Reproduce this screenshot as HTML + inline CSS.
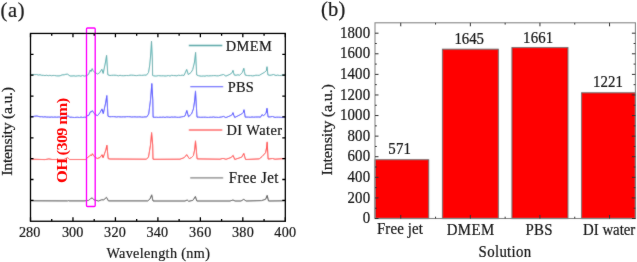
<!DOCTYPE html><html><head><meta charset="utf-8"><style>html,body{margin:0;padding:0;background:#fff;width:637px;height:262px;overflow:hidden}svg{display:block}text{font-family:"Liberation Serif",serif;fill:#1a1a1a;stroke:#1a1a1a;stroke-width:0.22}</style></head><body>
<svg width="637" height="262" viewBox="0 0 637 262"><defs><filter id="bl" x="-5%" y="-5%" width="110%" height="110%"><feConvolveMatrix order="3" kernelMatrix="0.0350 0.0700 0.0350 0.0700 0.5800 0.0700 0.0350 0.0700 0.0350" preserveAlpha="false"/></filter><filter id="bt" x="-2%" y="-2%" width="104%" height="104%"><feConvolveMatrix order="3" kernelMatrix="0.0150 0.0300 0.0150 0.0300 0.8200 0.0300 0.0150 0.0300 0.0150" preserveAlpha="false"/></filter><filter id="bf" x="-2%" y="-2%" width="104%" height="104%"><feConvolveMatrix order="3" kernelMatrix="0.0150 0.0300 0.0150 0.0300 0.8200 0.0300 0.0150 0.0300 0.0150" preserveAlpha="false"/></filter></defs>
<g filter="url(#bl)"><rect x="-10" y="-10" width="660" height="290" fill="#fff"/>
<path d="M30.50,74.90 L32.75,74.61 L35.00,74.60 L36.67,74.49 L38.33,75.05 L40.00,74.76 L41.67,75.30 L43.33,75.33 L45.00,75.60 L46.62,75.28 L48.25,75.68 L49.88,75.34 L51.50,75.70 L53.12,75.44 L54.75,75.50 L56.38,75.80 L58.00,75.90 L60.07,75.79 L62.13,74.87 L64.20,74.80 L65.90,74.28 L67.60,74.20 L70.00,76.00 L72.00,76.00 L74.00,75.80 L75.71,76.16 L77.43,75.86 L79.14,75.72 L80.86,76.18 L82.57,75.44 L84.29,76.09 L86.00,75.80 L88.50,74.50 L89.60,71.50 L90.20,70.00 L91.00,71.60 L92.20,68.60 L93.00,70.50 L94.60,72.30 L97.50,74.00 L99.50,72.90 L101.80,69.20 L103.20,73.50 L105.50,62.00 L106.60,55.20 L107.80,74.80 L110.00,75.50 L111.67,75.34 L113.33,75.24 L115.00,75.23 L116.67,75.39 L118.33,75.81 L120.00,75.31 L121.67,75.64 L123.33,75.70 L125.00,75.60 L126.67,75.48 L128.33,75.60 L130.00,75.20 L131.67,75.18 L133.33,75.28 L135.00,75.50 L136.63,75.60 L138.26,75.36 L139.89,75.22 L141.51,75.40 L143.14,75.25 L144.77,75.08 L146.40,75.20 L148.50,72.50 L149.60,66.00 L150.40,58.00 L151.10,48.00 L151.50,41.00 L152.40,60.00 L152.60,75.50 L153.60,75.80 L155.20,76.04 L156.80,75.96 L158.40,75.60 L160.00,75.80 L161.67,75.84 L163.33,75.78 L165.00,76.03 L166.67,75.89 L168.33,75.52 L170.00,76.05 L171.67,75.34 L173.33,75.56 L175.00,75.60 L176.80,75.79 L178.60,75.28 L180.40,75.53 L182.20,75.15 L184.00,75.50 L186.70,69.40 L188.30,74.60 L191.00,72.50 L192.70,69.70 L194.50,62.00 L195.60,52.30 L196.70,75.00 L198.35,75.63 L200.00,76.00 L201.67,76.17 L203.33,75.97 L205.00,76.17 L206.67,75.67 L208.33,75.93 L210.00,75.81 L211.67,75.75 L213.33,75.61 L215.00,75.60 L216.67,75.81 L218.33,75.82 L220.00,75.40 L221.75,74.93 L223.50,74.50 L225.90,76.10 L230.00,74.30 L232.20,72.60 L233.00,70.30 L233.60,72.80 L234.30,75.10 L236.10,75.26 L237.90,74.82 L239.70,75.20 L242.30,72.60 L243.80,68.20 L244.40,71.50 L245.20,75.10 L247.30,75.50 L249.00,75.65 L250.70,75.59 L252.40,75.85 L254.10,75.70 L255.80,75.26 L257.50,75.32 L259.20,75.40 L261.90,73.80 L264.70,72.20 L266.30,70.80 L267.00,66.70 L267.90,74.90 L270.00,75.30 L271.70,75.03 L273.40,74.50 L276.00,75.50 L277.67,75.12 L279.33,75.47 L281.00,75.50 L283.15,74.88 L285.30,74.80" fill="none" stroke="#3aa2a2" stroke-width="0.95" stroke-linejoin="round"/>
<path d="M30.50,116.80 L33.00,116.50 L35.00,116.16 L37.00,116.00 L40.00,116.80 L41.67,116.69 L43.33,117.01 L45.00,116.79 L46.67,117.08 L48.33,117.07 L50.00,117.20 L51.65,116.99 L53.30,117.22 L54.95,117.00 L56.60,117.21 L58.25,117.03 L59.90,117.06 L61.55,117.23 L63.20,117.44 L64.85,117.10 L66.50,117.30 L68.00,115.50 L69.50,117.30 L71.15,117.16 L72.80,117.36 L74.45,117.52 L76.10,117.34 L77.75,117.25 L79.40,117.54 L81.05,117.07 L82.70,117.48 L84.35,117.19 L86.00,117.30 L86.90,115.80 L89.00,115.20 L90.30,111.80 L91.20,112.10 L92.30,110.60 L95.20,114.70 L97.60,115.60 L100.00,112.60 L101.90,108.90 L103.30,113.80 L105.60,103.00 L106.80,95.50 L108.00,116.30 L110.00,116.80 L111.67,116.63 L113.34,116.63 L115.00,116.73 L116.67,116.99 L118.34,116.69 L120.01,116.90 L121.68,116.93 L123.35,116.81 L125.01,116.91 L126.68,116.67 L128.35,116.68 L130.02,116.76 L131.69,117.01 L133.35,116.89 L135.02,116.84 L136.69,116.99 L138.36,116.93 L140.03,116.86 L141.70,117.12 L143.36,117.08 L145.03,116.86 L146.70,117.00 L148.70,114.00 L150.50,100.00 L151.80,83.50 L152.80,100.00 L153.10,117.30 L154.82,117.31 L156.55,117.26 L158.28,117.41 L160.00,117.20 L161.67,117.31 L163.33,117.09 L165.00,117.44 L166.67,117.01 L168.33,117.16 L170.00,117.33 L171.67,117.03 L173.33,117.19 L175.00,116.97 L176.67,117.28 L178.33,117.33 L180.00,117.20 L181.67,116.84 L183.33,116.59 L185.00,116.00 L186.80,110.40 L188.50,116.80 L191.50,114.00 L193.40,109.00 L194.60,101.00 L195.50,90.90 L197.00,117.20 L198.64,117.11 L200.29,117.30 L201.93,117.25 L203.57,117.24 L205.21,117.18 L206.86,117.37 L208.50,117.42 L210.14,117.19 L211.79,117.28 L213.43,116.98 L215.07,117.30 L216.71,117.27 L218.36,117.45 L220.00,117.20 L221.75,116.96 L223.50,116.40 L225.90,117.60 L230.90,115.50 L232.30,114.50 L233.00,112.60 L233.70,115.00 L234.70,117.50 L241.80,113.90 L243.30,112.30 L244.00,109.70 L244.60,113.00 L245.20,117.20 L246.90,117.09 L248.60,117.14 L250.30,117.28 L252.00,116.96 L253.70,117.18 L255.40,117.03 L257.10,117.01 L258.80,116.98 L260.50,117.20 L261.90,114.70 L263.70,115.60 L266.00,113.30 L267.00,108.20 L268.10,117.00 L270.25,116.88 L272.40,116.50 L275.00,117.40 L276.72,117.18 L278.43,117.21 L280.15,117.25 L281.87,117.45 L283.58,117.02 L285.30,117.20" fill="none" stroke="#2e2eff" stroke-width="1.00" stroke-linejoin="round"/>
<path d="M30.50,159.20 L35.00,159.30 L45.00,159.60 L48.90,158.90 L52.00,159.50 L64.00,159.50 L67.70,157.60 L69.50,159.50 L86.00,159.50 L86.60,158.30 L89.40,156.10 L90.90,154.90 L91.50,155.80 L92.40,153.70 L94.60,156.90 L97.20,158.50 L100.00,157.50 L102.00,154.70 L103.10,157.90 L105.80,150.00 L106.90,145.10 L108.20,158.70 L110.00,159.00 L146.50,159.20 L148.50,157.00 L150.50,145.00 L151.60,132.50 L152.70,145.00 L153.00,159.30 L180.00,159.20 L184.30,157.60 L186.70,154.60 L189.20,158.60 L191.50,157.60 L193.40,155.60 L194.60,150.00 L195.50,140.80 L197.10,158.90 L220.00,159.20 L223.00,158.40 L226.00,159.30 L231.00,157.50 L233.20,155.40 L234.70,159.50 L241.80,157.10 L243.80,153.30 L245.50,159.50 L259.20,158.90 L262.00,156.60 L265.50,152.80 L266.50,148.00 L267.20,141.90 L268.10,159.10 L272.40,158.50 L275.00,159.20 L285.30,158.50" fill="none" stroke="#ff2222" stroke-width="1.00" stroke-linejoin="round"/>
<path d="M30.50,200.80 L60.00,200.90 L67.50,200.90 L68.30,200.60 L69.00,200.90 L84.00,200.90 L88.60,200.40 L90.50,198.70 L92.20,197.90 L93.90,199.80 L98.50,201.00 L101.60,199.80 L103.80,199.80 L106.50,197.30 L108.40,200.90 L147.80,200.90 L150.00,199.00 L151.70,194.80 L153.00,201.00 L185.00,201.00 L187.20,200.00 L188.70,201.30 L193.00,200.30 L195.40,196.40 L196.80,201.00 L230.00,201.00 L233.00,200.00 L235.00,201.00 L241.00,201.00 L243.80,199.30 L246.00,201.00 L261.50,200.60 L265.60,199.30 L267.20,195.30 L268.50,201.00 L285.30,200.80" fill="none" stroke="#3a3a3a" stroke-width="1.00" stroke-linejoin="round"/>
<path d="M188.80,45.50 H222.30" stroke="#35a0a0" stroke-width="1.30"/>
<path d="M190.30,86.70 H223.20" stroke="#5a5aff" stroke-width="1.30"/>
<path d="M188.80,130.00 H222.30" stroke="#ff5a5a" stroke-width="1.30"/>
<path d="M190.20,177.80 H223.20" stroke="#7a7a7a" stroke-width="1.30"/>
<rect x="375.00" y="159.72" width="53.75" height="58.78" fill="#ff0000" stroke="#333333" stroke-width="0.80"/>
<rect x="442.35" y="49.16" width="56.00" height="169.34" fill="#ff0000" stroke="#333333" stroke-width="0.80"/>
<rect x="511.95" y="47.51" width="56.00" height="170.99" fill="#ff0000" stroke="#333333" stroke-width="0.80"/>
<rect x="581.55" y="92.80" width="53.85" height="125.70" fill="#ff0000" stroke="#333333" stroke-width="0.80"/>
</g>
<g filter="url(#bf)">
<rect x="86.50" y="28.00" width="8.70" height="178.50" rx="1" fill="none" stroke="#ff00ff" stroke-width="1.35"/>
<rect x="30.50" y="33.45" width="254.80" height="187.80" fill="none" stroke="#000000" stroke-width="1.30"/>
<path d="M30.50,221.25 V217.35 M30.50,33.45 V37.35 M51.73,221.25 V219.05 M51.73,33.45 V35.65 M72.97,221.25 V217.35 M72.97,33.45 V37.35 M94.20,221.25 V219.05 M94.20,33.45 V35.65 M115.43,221.25 V217.35 M115.43,33.45 V37.35 M136.67,221.25 V219.05 M136.67,33.45 V35.65 M157.90,221.25 V217.35 M157.90,33.45 V37.35 M179.13,221.25 V219.05 M179.13,33.45 V35.65 M200.37,221.25 V217.35 M200.37,33.45 V37.35 M221.60,221.25 V219.05 M221.60,33.45 V35.65 M242.83,221.25 V217.35 M242.83,33.45 V37.35 M264.07,221.25 V219.05 M264.07,33.45 V35.65 M285.30,221.25 V217.35 M285.30,33.45 V37.35 M30.50,200.38 H33.50 M285.30,200.38 H282.30 M30.50,179.52 H33.50 M285.30,179.52 H282.30 M30.50,158.65 H33.50 M285.30,158.65 H282.30 M30.50,137.78 H33.50 M285.30,137.78 H282.30 M30.50,116.92 H33.50 M285.30,116.92 H282.30 M30.50,96.05 H33.50 M285.30,96.05 H282.30 M30.50,75.18 H33.50 M285.30,75.18 H282.30 M30.50,54.32 H33.50 M285.30,54.32 H282.30" stroke="#000000" stroke-width="1.30"/>
<rect x="375.00" y="22.80" width="260.40" height="195.70" fill="none" stroke="#8a8a8a" stroke-width="1.10"/>
<path d="M375.00,218.50 H378.50 M635.40,218.50 H631.90 M375.00,208.21 H376.80 M635.40,208.21 H633.60 M375.00,197.91 H378.50 M635.40,197.91 H631.90 M375.00,187.62 H376.80 M635.40,187.62 H633.60 M375.00,177.32 H378.50 M635.40,177.32 H631.90 M375.00,167.03 H376.80 M635.40,167.03 H633.60 M375.00,156.73 H378.50 M635.40,156.73 H631.90 M375.00,146.44 H376.80 M635.40,146.44 H633.60 M375.00,136.14 H378.50 M635.40,136.14 H631.90 M375.00,125.85 H376.80 M635.40,125.85 H633.60 M375.00,115.56 H378.50 M635.40,115.56 H631.90 M375.00,105.26 H376.80 M635.40,105.26 H633.60 M375.00,94.97 H378.50 M635.40,94.97 H631.90 M375.00,84.67 H376.80 M635.40,84.67 H633.60 M375.00,74.38 H378.50 M635.40,74.38 H631.90 M375.00,64.08 H376.80 M635.40,64.08 H633.60 M375.00,53.79 H378.50 M635.40,53.79 H631.90 M375.00,43.49 H376.80 M635.40,43.49 H633.60 M375.00,33.20 H378.50 M635.40,33.20 H631.90 M400.75,218.50 V215.00 M400.75,22.80 V26.30 M470.35,218.50 V215.00 M470.35,22.80 V26.30 M539.95,218.50 V215.00 M539.95,22.80 V26.30 M609.55,218.50 V215.00 M609.55,22.80 V26.30 M435.55,218.50 V216.70 M435.55,22.80 V24.60 M505.15,218.50 V216.70 M505.15,22.80 V24.60 M574.75,218.50 V216.70 M574.75,22.80 V24.60" stroke="#333333" stroke-width="1.00"/>
</g>
<g filter="url(#bt)">
<text transform="translate(29.60,237.10) scale(1,1.060)" font-size="14.20" text-anchor="middle" textLength="21.39" lengthAdjust="spacing">280</text>
<text transform="translate(72.60,237.10) scale(1,1.060)" font-size="14.20" text-anchor="middle" textLength="21.39" lengthAdjust="spacing">300</text>
<text transform="translate(114.95,237.14) scale(1,1.060)" font-size="14.20" text-anchor="middle" textLength="21.89" lengthAdjust="spacing">320</text>
<text transform="translate(157.33,237.14) scale(1,1.060)" font-size="14.20" text-anchor="middle" textLength="21.69" lengthAdjust="spacing">340</text>
<text transform="translate(200.15,237.14) scale(1,1.060)" font-size="14.20" text-anchor="middle" textLength="22.49" lengthAdjust="spacing">360</text>
<text transform="translate(242.90,237.14) scale(1,1.060)" font-size="14.20" text-anchor="middle" textLength="21.99" lengthAdjust="spacing">380</text>
<text transform="translate(285.20,237.14) scale(1,1.060)" font-size="14.20" text-anchor="middle" textLength="21.99" lengthAdjust="spacing">400</text>
<text transform="translate(158.14,257.67) scale(1,1.060)" font-size="14.20" text-anchor="middle" textLength="103.48" lengthAdjust="spacing">Wavelength (nm)</text>
<text transform="translate(12.12,131.30) scale(1,1.060) rotate(-90)" font-size="14.90" text-anchor="middle" textLength="83.75" lengthAdjust="spacing">Intensity (a.u.)</text>
<text transform="translate(0.60,16.70) scale(1,1.060)" font-size="20.50" textLength="23.95" lengthAdjust="spacing">(a)</text>
<text transform="translate(225.75,50.50) scale(1,1.060)" font-size="14.40" textLength="46.08" lengthAdjust="spacing">DMEM</text>
<text transform="translate(227.80,91.80) scale(1,1.060)" font-size="14.40" textLength="25.91" lengthAdjust="spacing">PBS</text>
<text transform="translate(226.56,135.28) scale(1,1.060)" font-size="14.40" textLength="55.53" lengthAdjust="spacing">DI Water</text>
<text transform="translate(228.70,182.66) scale(1,1.060)" font-size="14.90" textLength="49.63" lengthAdjust="spacing">Free Jet</text>
<text transform="translate(66.70,140.40) scale(1,1.060) rotate(-90)" font-size="15.40" text-anchor="middle" textLength="80.17" lengthAdjust="spacing" font-weight="bold" style="fill:#ff0000;stroke:none">OH (309 nm)</text>
<text transform="translate(504.88,257.20) scale(1,1.060)" font-size="14.85" text-anchor="middle" textLength="52.53" lengthAdjust="spacing">Solution</text>
<text transform="translate(331.54,129.80) scale(1,1.060) rotate(-90)" font-size="15.40" text-anchor="middle" textLength="86.19" lengthAdjust="spacing">Intensity (a.u.)</text>
<text transform="translate(320.90,16.29) scale(1,1.060)" font-size="20.50" textLength="24.50" lengthAdjust="spacing">(b)</text>
<text transform="translate(399.70,154.27) scale(1,1.060)" font-size="14.85" text-anchor="middle" textLength="22.68" lengthAdjust="spacing">571</text>
<text transform="translate(399.92,234.40) scale(1,1.060)" font-size="14.85" text-anchor="middle" textLength="46.03" lengthAdjust="spacing">Free jet</text>
<text transform="translate(469.20,44.14) scale(1,1.060)" font-size="14.85" text-anchor="middle" textLength="29.29" lengthAdjust="spacing">1645</text>
<text transform="translate(470.46,234.89) scale(1,1.060)" font-size="14.85" text-anchor="middle" textLength="47.49" lengthAdjust="spacing">DMEM</text>
<text transform="translate(538.10,42.70) scale(1,1.060)" font-size="14.85" text-anchor="middle" textLength="29.99" lengthAdjust="spacing">1661</text>
<text transform="translate(539.02,235.18) scale(1,1.060)" font-size="14.85" text-anchor="middle" textLength="26.81" lengthAdjust="spacing">PBS</text>
<text transform="translate(607.95,87.35) scale(1,1.060)" font-size="14.85" text-anchor="middle" textLength="30.09" lengthAdjust="spacing">1221</text>
<text transform="translate(609.19,235.18) scale(1,1.060)" font-size="14.85" text-anchor="middle" textLength="52.14" lengthAdjust="spacing">DI water</text>
<text transform="translate(370.08,223.20) scale(1,1.060)" font-size="14.85" text-anchor="end">0</text>
<text transform="translate(370.08,202.61) scale(1,1.060)" font-size="14.85" text-anchor="end" textLength="22.55" lengthAdjust="spacing">200</text>
<text transform="translate(370.08,182.02) scale(1,1.060)" font-size="14.85" text-anchor="end" textLength="22.55" lengthAdjust="spacing">400</text>
<text transform="translate(370.08,161.43) scale(1,1.060)" font-size="14.85" text-anchor="end" textLength="22.55" lengthAdjust="spacing">600</text>
<text transform="translate(370.08,140.84) scale(1,1.060)" font-size="14.85" text-anchor="end" textLength="22.55" lengthAdjust="spacing">800</text>
<text transform="translate(370.08,120.26) scale(1,1.060)" font-size="14.85" text-anchor="end" textLength="30.19" lengthAdjust="spacing">1000</text>
<text transform="translate(370.08,99.67) scale(1,1.060)" font-size="14.85" text-anchor="end" textLength="30.19" lengthAdjust="spacing">1200</text>
<text transform="translate(370.08,79.08) scale(1,1.060)" font-size="14.85" text-anchor="end" textLength="30.19" lengthAdjust="spacing">1400</text>
<text transform="translate(370.08,58.49) scale(1,1.060)" font-size="14.85" text-anchor="end" textLength="30.19" lengthAdjust="spacing">1600</text>
<text transform="translate(370.08,37.90) scale(1,1.060)" font-size="14.85" text-anchor="end" textLength="30.19" lengthAdjust="spacing">1800</text>
</g>
</svg></body></html>
